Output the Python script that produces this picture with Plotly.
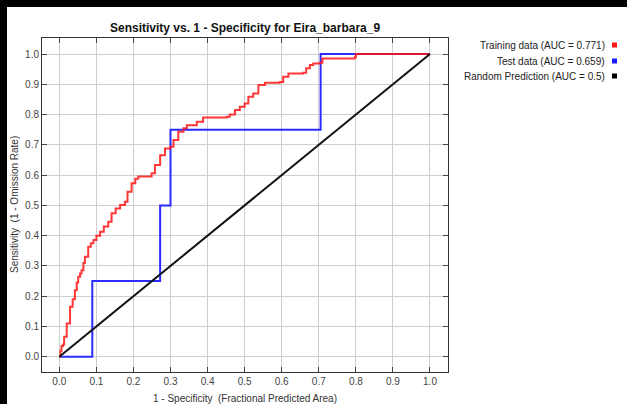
import plotly.graph_objects as go

# ---- data ----
train_x = [0.0, 0.003, 0.006, 0.01, 0.013, 0.02, 0.029, 0.036, 0.042, 0.047, 0.051, 0.056, 0.06, 0.065, 0.069,
           0.078, 0.085, 0.092, 0.1, 0.11, 0.12, 0.132, 0.141, 0.152, 0.164, 0.177, 0.184, 0.195, 0.205,
           0.213, 0.24, 0.249, 0.258, 0.272, 0.285, 0.299, 0.308, 0.321, 0.335, 0.344, 0.371, 0.388,
           0.452, 0.46, 0.474, 0.487, 0.5, 0.51, 0.523, 0.537, 0.555, 0.595, 0.604, 0.618, 0.658,
           0.666, 0.676, 0.685, 0.703, 0.71, 0.797, 0.8, 1.0]
train_y = [0.0, 0.02, 0.035, 0.04, 0.066, 0.11, 0.165, 0.19, 0.22, 0.245, 0.264, 0.275, 0.286, 0.31, 0.33,
           0.363, 0.375, 0.386, 0.4, 0.413, 0.43, 0.446, 0.474, 0.49, 0.501, 0.512, 0.545, 0.573, 0.588,
           0.595, 0.595, 0.606, 0.633, 0.666, 0.688, 0.694, 0.716, 0.743, 0.755, 0.765, 0.776, 0.79,
           0.793, 0.8, 0.815, 0.826, 0.837, 0.859, 0.87, 0.898, 0.905, 0.908, 0.925, 0.936, 0.938,
           0.953, 0.964, 0.969, 0.971, 0.985, 0.989, 1.0, 1.0]
test_x = [0.0, 0.089, 0.089, 0.272, 0.272, 0.30, 0.30, 0.705, 0.705, 1.0]
test_y = [0.0, 0.0, 0.25, 0.25, 0.5, 0.5, 0.75, 0.75, 1.0, 1.0]
rand_x = [0.0, 1.0]
rand_y = [0.0, 1.0]
ticks = [0.0, 0.1, 0.2, 0.3, 0.4, 0.5, 0.6, 0.7, 0.8, 0.9, 1.0]
tick_labels = ["0.0", "0.1", "0.2", "0.3", "0.4", "0.5", "0.6", "0.7", "0.8", "0.9", "1.0"]
legend_labels = ["Training data (AUC = 0.771)", "Test data (AUC = 0.659)", "Random Prediction (AUC = 0.5)"]
legend_colors = ["#ff1a1a", "#1a1aff", "#000000"]

W, H = 627, 404
L, R, T, B = 42, 448, 38, 372

def px(p):
    return (p - L) / (R - L)

def py(p):
    return (B - p) / (B - T)

fig = go.Figure()
fig.add_trace(go.Scatter(x=test_x, y=test_y, mode="lines",
                         line=dict(color="#2b2bff", width=2), showlegend=False))
fig.add_trace(go.Scatter(x=train_x, y=train_y, mode="lines", line_shape="hv",
                         line=dict(color="rgba(255,20,20,0.85)", width=2), showlegend=False))
fig.add_trace(go.Scatter(x=rand_x, y=rand_y, mode="lines",
                         line=dict(color="#111111", width=2), showlegend=False))

axis_common = dict(
    tickvals=ticks, ticktext=tick_labels, ticks="inside", ticklen=5, tickcolor="#444",
    showline=True, linecolor="#333", linewidth=1, mirror="ticks",
    showgrid=True, gridcolor="#cfcfcf", gridwidth=1, zeroline=False,
    tickfont=dict(family="Liberation Sans", size=10, color="#444"),
)
fig.update_xaxes(range=[-0.0467, 1.0486], **axis_common)
fig.update_yaxes(range=[-0.0505, 1.053], **axis_common)

shapes = [
    dict(type="rect", xref="paper", yref="paper", x0=px(0), x1=px(7), y0=py(H), y1=py(0),
         fillcolor="black", line=dict(width=0), layer="above"),
    dict(type="rect", xref="paper", yref="paper", x0=px(0), x1=px(W), y0=py(7), y1=py(0),
         fillcolor="black", line=dict(width=0), layer="above"),
]
annotations = [
    dict(text="<b>Sensitivity vs. 1 - Specificity for Eira_barbara_9</b>", xref="paper", yref="paper",
         x=0.5, y=py(28), xanchor="center", yanchor="middle", showarrow=False,
         font=dict(family="Liberation Sans", size=12, color="#111")),
    dict(text="1 - Specificity  (Fractional Predicted Area)", xref="paper", yref="paper",
         x=0.5, y=py(398), xanchor="center", yanchor="middle", showarrow=False,
         font=dict(family="Liberation Sans", size=10, color="#333")),
    dict(text="Sensitivity  (1 - Omission Rate)", xref="paper", yref="paper",
         x=px(14), y=py(205), xanchor="center", yanchor="middle", showarrow=False, textangle=-90,
         font=dict(family="Liberation Sans", size=10, color="#333")),
]
rows = [45, 61, 76]
for lab, col, ry in zip(legend_labels, legend_colors, rows):
    annotations.append(dict(text=lab, xref="paper", yref="paper", x=px(607), y=py(ry),
                            xanchor="right", yanchor="middle", showarrow=False,
                            font=dict(family="Liberation Sans", size=10, color="#222")))
    shapes.append(dict(type="rect", xref="paper", yref="paper", x0=px(612), x1=px(617),
                       y0=py(ry + 2.5), y1=py(ry - 2.5), fillcolor=col, line=dict(width=0)))

fig.update_layout(
    width=W, height=H, margin=dict(l=L, r=W - R, t=T, b=H - B),
    paper_bgcolor="white", plot_bgcolor="white",
    shapes=shapes, annotations=annotations, showlegend=False,
)
fig.write_html("out.html")
